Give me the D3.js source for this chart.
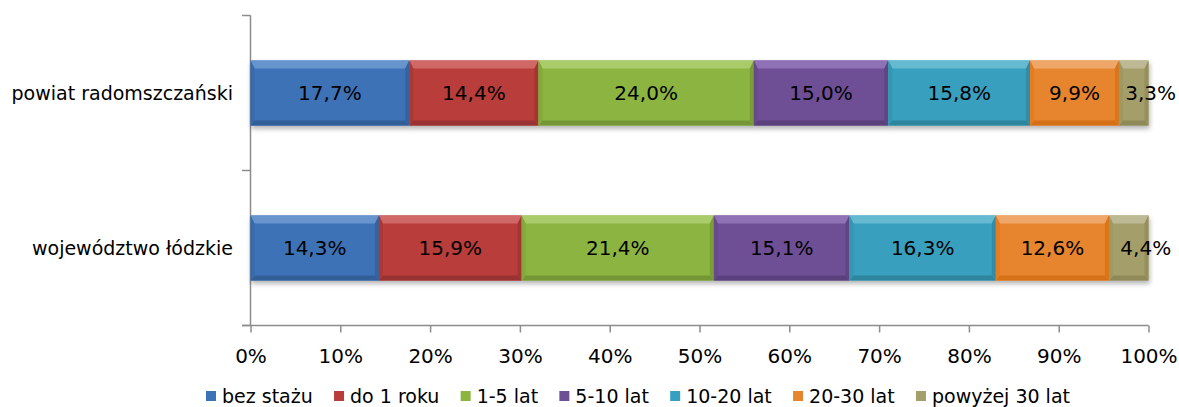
<!DOCTYPE html>
<html><head><meta charset="utf-8">
<script src="https://cdn.jsdelivr.net/npm/d3@7"></script>
<style>body{margin:0;background:#fff}svg text{font-family:"DejaVu Sans",sans-serif;fill:#000}</style>
</head><body><svg id="c" width="1179" height="407"></svg>
<script>
const categories = ["powiat radomszczański", "województwo łódzkie"];
const seriesNames = ["bez stażu", "do 1 roku", "1-5 lat", "5-10 lat", "10-20 lat", "20-30 lat", "powyżej 30 lat"];
const powiatValues = [17.7, 14.4, 24.0, 15.0, 15.8, 9.9, 3.3];
const wojewodztwoValues = [14.3, 15.9, 21.4, 15.1, 16.3, 12.6, 4.4];
const seriesColors = ["#3c72b6", "#b83d3a", "#8cb43f", "#6e4f96", "#37a0be", "#e7842e", "#a49e6b"];
const tickValues = [0, 10, 20, 30, 40, 50, 60, 70, 80, 90, 100];

const rows = [powiatValues, wojewodztwoValues];
const svg = d3.select("#c");
const x = d3.scaleLinear().domain([0, 100]).range([250.5, 1148.5]);
const y = d3.scaleBand().domain(categories).range([15.5, 325.5]).paddingInner(0.58).paddingOuter(0.29);

const defs = svg.append("defs");
const f = defs.append("filter").attr("id","sh").attr("x","-5%").attr("y","-20%").attr("width","110%").attr("height","160%");
f.append("feGaussianBlur").attr("in","SourceAlpha").attr("stdDeviation",2.5).attr("result","b");
f.append("feOffset").attr("in","b").attr("dy",3).attr("dx",1).attr("result","o");
f.append("feComponentTransfer").attr("in","o").attr("result","o2").append("feFuncA").attr("type","linear").attr("slope",0.3);
const m = f.append("feMerge"); m.append("feMergeNode").attr("in","o2"); m.append("feMergeNode").attr("in","SourceGraphic");

// axes
const axisG = svg.append("g");
axisG.append("line").attr("x1",250.5).attr("x2",250.5).attr("y1",15.5).attr("y2",325.5).attr("stroke","#8c8c8c").attr("stroke-width",1.5);
axisG.append("line").attr("x1",242).attr("x2",x(100)).attr("y1",325.5).attr("y2",325.5).attr("stroke","#8c8c8c").attr("stroke-width",1.5);
const bounds = [15.5, (15.5+325.5)/2, 325.5];
bounds.forEach(b => axisG.append("line").attr("x1",242).attr("x2",250.5).attr("y1",b).attr("y2",b).attr("stroke","#8c8c8c").attr("stroke-width",1.5));
const xAxis = d3.axisBottom(x).tickValues(tickValues).tickSize(7).tickFormat(d => d + "%");
const xg = svg.append("g").attr("transform","translate(0,325.5)").call(xAxis);
xg.select(".domain").remove();
xg.selectAll(".tick line").attr("stroke","#8c8c8c").attr("stroke-width",1.5);
xg.selectAll(".tick text").attr("y",30).attr("dy","0.35em").style("font-size","20px").style("font-family","DejaVu Sans, sans-serif").attr("fill","#000");

// category labels
svg.selectAll(".cat").data(categories).enter().append("text")
  .attr("x",233).attr("y",d => y(d)+y.bandwidth()/2).attr("dy","0.35em").attr("text-anchor","end")
  .style("font-size","19px").text(d => d);

function shade(c, k){ const h = d3.hsl(c); return h.copy({l: Math.max(0,Math.min(1,h.l + k))}).toString(); }

rows.forEach((vals, ri) => {
  const cat = categories[ri];
  const y0 = y(cat), h = y.bandwidth(), y1 = y0 + h;
  let cum = 0;
  const segs = vals.map((v,i) => { const s = {v, i, a: cum, b: cum + v}; cum += v; return s; });
  const total = cum;
  const g = svg.append("g").attr("filter","url(#sh)");
  segs.forEach(s => {
    const xa = x(s.a/total*100), xb = x(s.b/total*100);
    const c = seriesColors[s.i];
    const bt = 8, bb = 5, bs = 4;
    g.append("rect").attr("x",xa).attr("y",y0).attr("width",xb-xa).attr("height",h).attr("fill",c);
    g.append("polygon").attr("points",[[xa,y0],[xb,y0],[xb-bs,y0+bt],[xa+bs,y0+bt]].join(" ")).attr("fill",shade(c,0.13));
    g.append("polygon").attr("points",[[xa,y1],[xb,y1],[xb-bs,y1-bb],[xa+bs,y1-bb]].join(" ")).attr("fill",shade(c,-0.08));
    g.append("polygon").attr("points",[[xa,y0],[xa+bs,y0+bt],[xa+bs,y1-bb],[xa,y1]].join(" ")).attr("fill",shade(c,-0.03));
    g.append("polygon").attr("points",[[xb,y0],[xb-bs,y0+bt],[xb-bs,y1-bb],[xb,y1]].join(" ")).attr("fill",shade(c,-0.06));
  });
  segs.forEach(s => {
    const xa = x(s.a/total*100), xb = x(s.b/total*100);
    const off = s.i === vals.length - 1 ? 17 : 0;
    svg.append("text").attr("x",(xa+xb)/2 + off).attr("y",(y0+y1)/2).attr("dy","0.35em").attr("text-anchor","middle")
      .style("font-size","20px").text(d3.format(".1f")(s.v).replace(".", ",") + "%");
  });
});

// legend
const lg = svg.append("g");
const items = lg.selectAll("g").data(seriesNames).enter().append("g");
items.append("rect").attr("width",10).attr("height",10).attr("y",-5).attr("fill",(d,i)=>seriesColors[i]);
items.append("text").attr("x",16).attr("dy","0.35em").style("font-size","19px").text(d=>d);
const widths = []; items.each(function(){ widths.push(this.getBBox().width); });
const legendSpan = 864, legendStart = 206;
const gap = (legendSpan - d3.sum(widths)) / (widths.length - 1);
let pos = legendStart;
items.attr("transform", (d,i) => { const t = `translate(${pos},396)`; pos += widths[i] + gap; return t; });
</script></body></html>
